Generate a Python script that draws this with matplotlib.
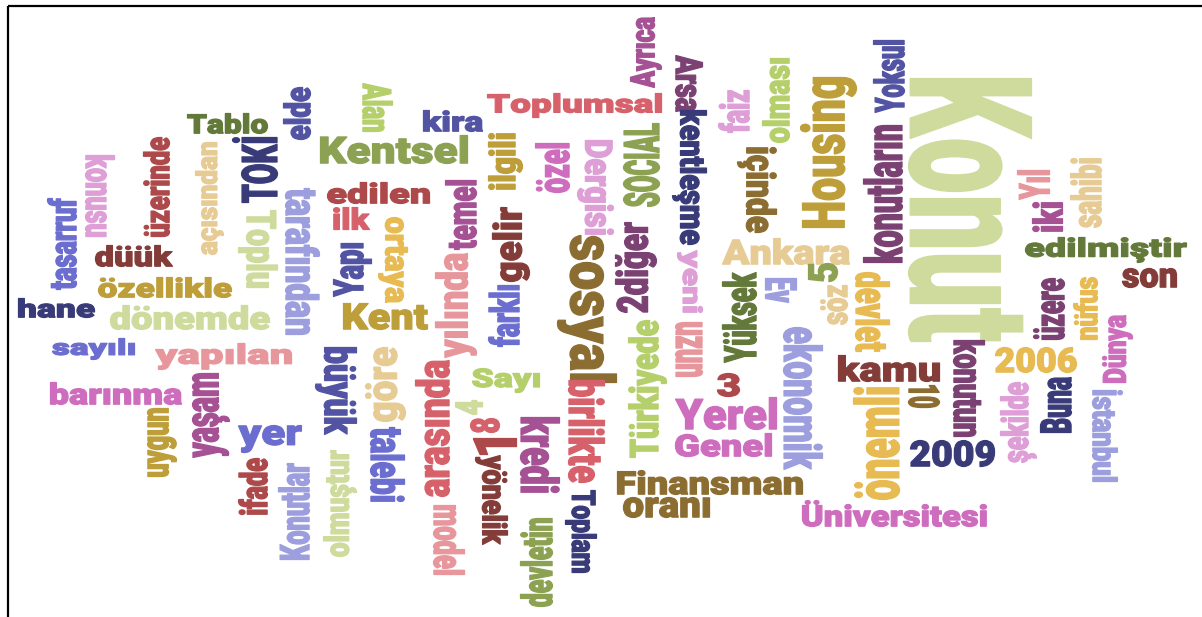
import matplotlib
matplotlib.use("Agg")
import matplotlib.pyplot as plt
from matplotlib import patheffects
from matplotlib.transforms import Affine2D

# words of the cloud
words = [
    "Tablo", "kira", "Toplumsal", "Kentsel", "edilen", "ilk", "Kent", "Sayı",
    "düük", "özellikle", "hane", "dönemde", "sayılı", "yapılan", "barınma", "yer",
    "Ankara", "Yerel", "Genel", "Finansman", "oranı", "Üniversitesi", "2009", "2006",
    "kamu", "edilmiştir", "son", "3",
    "tasarruf", "konusu", "üzerinde", "açısından", "TOKİ", "Toplu", "elde", "tarafından",
    "Alan", "özel", "ilgili", "Dergisi", "Ayrıca", "Arsa", "kentleşme", "SOCIAL",
    "faiz", "olması", "içinde", "Housing", "Yoksul", "konutların", "Konut", "Yıl",
    "iki", "sahibi", "üzere", "nüfus", "Dünya", "konutun", "10", "devlet",
    "önemli", "Buna", "şekilde", "İstanbul", "ekonomik", "Ev", "5", "söz",
    "Yüksek", "yeni", "uzun", "2diğer", "Türkiyede", "sosyal", "gelir", "temel",
    "yılında", "farklı", "ortaya", "Yapı", "büyük", "göre", "arasında", "talebi",
    "olmuştur", "Konutlar", "ifade", "yaşam", "uygun", "model", "4", "8",
    "1", "yönelik", "kredi", "birlikte", "Toplam", "devletin",
]

# d3 category20b colours
c20b = ["#393b79", "#5254a3", "#6b6ecf", "#9c9ede", "#637939", "#8ca252", "#b5cf6b", "#cedb9c",
        "#8c6d31", "#bd9e39", "#e7ba52", "#e7cb94", "#843c39", "#ad494a", "#d6616b", "#e7969c",
        "#7b4173", "#a55194", "#ce6dbd", "#de9ed6"]

# ink box of every word in image pixels: x0, x1, y0, y1, rotation, colour index
layout = [
    (187, 268, 113, 134, 0, 4), (423, 483, 110, 132, 0, 1), (487, 662, 93, 118, 0, 14),
    (320, 468, 135, 164, 0, 5), (327, 430, 182, 204, 0, 13), (333, 370, 207, 230, 0, 14),
    (343, 428, 303, 330, 0, 9), (472, 540, 368, 393, 0, 6),
    (95, 173, 245, 267, 0, 12), (98, 232, 277, 298, 0, 9), (18, 95, 298, 318, 0, 0),
    (110, 270, 305, 330, 0, 7), (52, 135, 338, 360, 0, 2), (155, 292, 343, 370, 0, 15),
    (50, 182, 382, 405, 0, 18), (238, 302, 425, 453, 0, 2),
    (722, 850, 238, 265, 0, 11), (675, 777, 397, 430, 0, 18), (675, 772, 433, 457, 0, 18),
    (617, 803, 470, 495, 0, 8), (623, 710, 497, 518, 0, 8), (802, 987, 500, 527, 0, 18),
    (910, 995, 440, 467, 0, 0), (995, 1077, 347, 373, 0, 10),
    (838, 940, 355, 382, 0, 12), (1025, 1187, 237, 263, 0, 4), (1122, 1177, 268, 288, 0, 12),
    (717, 740, 373, 397, 0, 13),
    (47, 77, 198, 290, 90, 2), (85, 115, 155, 237, -90, 19), (143, 170, 137, 237, 90, 13),
    (195, 224, 142, 255, 90, 11), (232, 278, 137, 203, 90, 0), (238, 278, 210, 288, -90, 7),
    (283, 311, 87, 140, 90, 1), (285, 320, 188, 335, -90, 3),
    (362, 393, 83, 132, -90, 6), (535, 570, 143, 193, 90, 18), (488, 523, 133, 190, 90, 9),
    (577, 614, 140, 235, -90, 19), (630, 662, 17, 88, 90, 17), (675, 703, 55, 112, -90, 16),
    (672, 707, 110, 245, -90, 0), (623, 660, 123, 207, 90, 5),
    (718, 750, 90, 133, 90, 19), (762, 790, 58, 143, 90, 6), (737, 777, 147, 233, -90, 8),
    (800, 857, 77, 228, 90, 9), (873, 905, 40, 113, 90, 1), (863, 903, 125, 263, 90, 16),
    (908, 1032, 78, 342, -90, 7), (1017, 1050, 170, 200, 90, 15),
    (1032, 1063, 202, 232, 90, 17), (1070, 1102, 158, 228, 90, 11), (1033, 1065, 278, 340, 90, 16),
    (1073, 1098, 277, 340, 90, 10), (1102, 1133, 315, 383, 90, 18), (953, 985, 340, 437, -90, 16),
    (908, 940, 385, 408, -90, 8), (855, 890, 272, 352, -90, 10),
    (853, 900, 387, 500, 90, 10), (1040, 1072, 377, 433, 90, 0), (1000, 1037, 382, 463, 90, 19),
    (1092, 1123, 390, 482, -90, 3), (783, 823, 327, 470, -90, 3), (765, 797, 278, 303, -90, 3),
    (808, 838, 263, 282, 90, 5), (820, 848, 285, 325, 90, 11),
    (722, 757, 272, 363, 90, 4), (677, 703, 250, 313, -90, 19), (675, 703, 322, 377, -90, 15),
    (615, 657, 222, 313, 90, 16), (628, 667, 320, 458, 90, 6), (557, 617, 235, 383, -90, 8),
    (492, 530, 207, 282, 90, 12), (445, 477, 180, 250, 90, 17),
    (435, 477, 253, 358, 90, 15), (488, 520, 285, 347, 90, 2), (378, 408, 217, 303, -90, 10),
    (333, 372, 243, 297, 90, 1), (315, 357, 347, 435, -90, 1), (365, 406, 347, 422, 90, 11),
    (415, 450, 360, 497, 90, 14), (370, 405, 427, 502, -90, 2),
    (323, 357, 450, 557, 90, 7), (278, 310, 463, 560, 90, 3), (238, 268, 458, 515, 90, 13),
    (192, 230, 373, 458, 90, 17), (147, 177, 408, 477, 90, 9), (433, 465, 505, 575, -90, 15),
    (455, 483, 400, 415, 90, 7), (470, 500, 418, 433, 90, 14),
    (473, 517, 438, 455, 90, 13), (475, 508, 455, 545, -90, 12), (520, 560, 417, 493, -90, 17),
    (568, 605, 380, 483, -90, 14), (565, 597, 490, 573, -90, 0), (520, 553, 518, 607, 90, 5),
]


class FitToBox(patheffects.AbstractPathEffect):
    """Stretch a word's outline so that its ink fills the given pixel box."""

    def __init__(self, ax, box, rot, bold=0.9):
        super().__init__()
        self.ax = ax
        self.box = box
        self.rot = rot
        self.bold = bold

    def draw_path(self, renderer, gc, tpath, affine, rgbFace=None):
        x0, x1, y0, y1 = self.box
        (px0, py0), (px1, py1) = self.ax.transData.transform([(x0, y0), (x1, y1)])
        ext = tpath.get_extents()
        w, h = abs(px1 - px0) - 1, abs(py1 - py0) - 1
        length, thick = (h, w) if self.rot else (w, h)
        t = (Affine2D()
             .translate(-(ext.x0 + ext.x1) / 2, -(ext.y0 + ext.y1) / 2)
             .scale(length / ext.width, thick / ext.height)
             .rotate_deg(self.rot)
             .translate((px0 + px1) / 2, (py0 + py1) / 2))
        # thin outline in the same colour makes the strokes heavier, like Impact
        gc0 = renderer.new_gc()
        gc0.copy_properties(gc)
        gc0.set_linewidth(self.bold)
        gc0.set_foreground(rgbFace)
        gc0.set_joinstyle('round')
        renderer.draw_path(gc0, tpath, t, rgbFace)
        gc0.restore()


fig = plt.figure(figsize=(12.02, 6.17), dpi=100)
ax = fig.add_axes([0, 0, 1, 1])
ax.set_xlim(0, 1202)
ax.set_ylim(617, 0)
ax.axis('off')
renderer = fig.canvas.get_renderer()

for word, (x0, x1, y0, y1, rot, ci) in zip(words, layout):
    t = ax.text((x0 + x1) / 2, (y0 + y1) / 2, word, color=c20b[ci],
                fontsize=10, family=['Roboto', 'DejaVu Sans'], weight='black',
                ha='center', va='center', rotation=rot,
                path_effects=[FitToBox(ax, (x0, x1, y0, y1), rot)])
    # keep the text's own box inside the word's box
    bb = t.get_window_extent(renderer)
    scale = min((x1 - x0) / bb.width, (y1 - y0) / bb.height)
    t.set_fontsize(10 * scale * 0.98)

# frame: only the left and top edges show in the picture
ax.plot([8, 8], [6, 617], color='black', lw=1.6, solid_capstyle='butt')
ax.plot([8, 1202], [6, 6], color='black', lw=1.6, solid_capstyle='butt')

fig.savefig('out.png', dpi=100)
